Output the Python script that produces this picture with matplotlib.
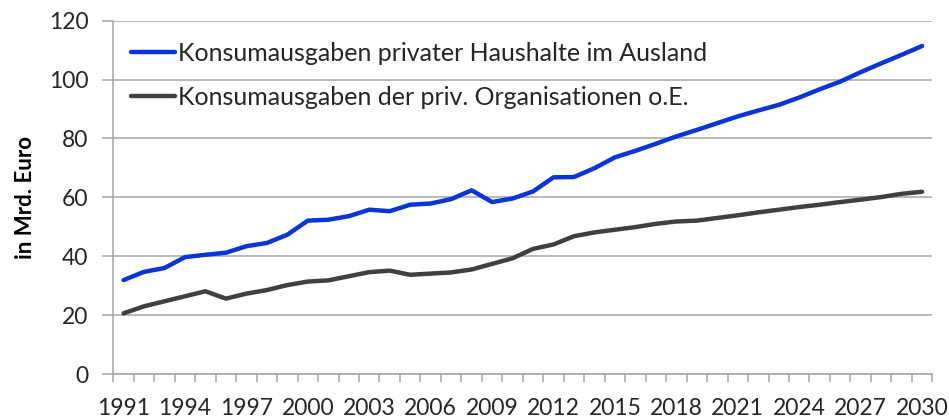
import matplotlib
matplotlib.use("Agg")
import matplotlib.pyplot as plt
from matplotlib.ticker import FixedLocator

plt.rcParams['font.family'] = ['Lato', 'DejaVu Sans']

years = list(range(1991, 2031))

private_households = [
    31.9, 34.7, 36.0, 39.7, 40.5, 41.2, 43.4, 44.5, 47.3, 52.1,
    52.4, 53.6, 55.8, 55.3, 57.5, 57.9, 59.4, 62.4, 58.4, 59.6,
    62.0, 66.8, 66.9, 69.9, 73.6, 75.8, 78.2, 80.7, 82.9, 85.2,
    87.5, 89.5, 91.4, 93.9, 96.7, 99.3, 102.5, 105.5, 108.4, 111.4,
]
private_orgs = [
    20.6, 23.0, 24.7, 26.4, 28.1, 25.6, 27.3, 28.5, 30.2, 31.4,
    31.8, 33.2, 34.6, 35.1, 33.7, 34.1, 34.5, 35.5, 37.4, 39.3,
    42.5, 44.0, 46.8, 48.1, 49.0, 49.9, 51.0, 51.8, 52.1, 53.0,
    53.9, 54.9, 55.8, 56.7, 57.5, 58.4, 59.2, 60.1, 61.2, 61.9,
]
series_labels = [
    "Konsumausgaben privater Haushalte im Ausland",
    "Konsumausgaben der priv. Organisationen o.E.",
]

fig = plt.figure(figsize=(9.49, 4.17), dpi=100)
ax = fig.add_axes([0.1194, 0.1031, 0.863, 0.8473])

x = list(range(len(years)))
ax.plot(x, private_households, color="#0a35d6", lw=3.2, label=series_labels[0],
        solid_capstyle="round", solid_joinstyle="round")
ax.plot(x, private_orgs, color="#404040", lw=3.2, label=series_labels[1],
        solid_capstyle="round", solid_joinstyle="round")

ax.set_xlim(-0.5, len(years) - 0.5)
ax.set_ylim(0, 120)
ax.set_yticks(range(0, 121, 20))
ax.yaxis.grid(True, color="#a6a6a6", lw=1.1)
ax.set_axisbelow(True)

# year labels every 3 categories, tick marks between categories
ax.set_xticks(x[::3])
ax.set_xticklabels([str(y) for y in years[::3]])
ax.xaxis.set_minor_locator(FixedLocator([i - 0.5 for i in range(len(years) + 1)]))
ax.tick_params(axis="x", which="major", length=0, pad=17, labelsize=16.5)
ax.tick_params(axis="x", which="minor", length=6, color="#a6a6a6", width=1.1)
ax.tick_params(axis="y", length=8, color="#a6a6a6", width=1.1, pad=10, labelsize=16.5)
for t in ax.get_xticklabels() + ax.get_yticklabels():
    t.set_color("#262626")

for side in ["top", "right"]:
    ax.spines[side].set_visible(False)
ax.spines["left"].set_color("#a6a6a6")
ax.spines["bottom"].set_color("#a6a6a6")
ax.spines["left"].set_linewidth(1.1)
ax.spines["bottom"].set_linewidth(1.1)

ax.set_ylabel("in Mrd. Euro", fontsize=16, fontweight="bold")
ax.yaxis.set_label_coords(-0.094, 0.5)

ax.legend(loc="upper left", bbox_to_anchor=(0.0, 0.99), frameon=False, fontsize=18,
          handlelength=1.75, handletextpad=0.12, labelspacing=0.85, borderaxespad=0.3,
          labelcolor="#262626")

fig.savefig("out.png", dpi=100)
